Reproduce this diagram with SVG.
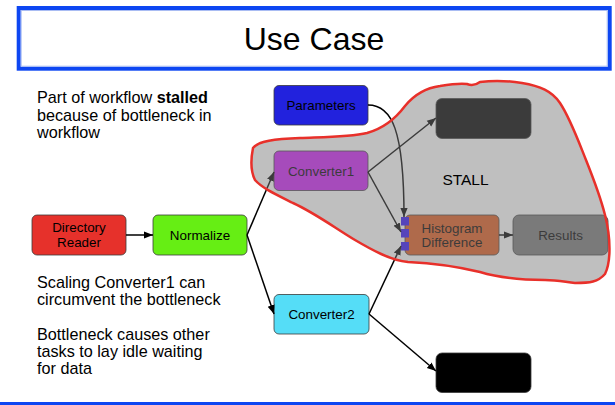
<svg xmlns="http://www.w3.org/2000/svg" width="615" height="405" viewBox="0 0 615 405">
  <defs>
    <style>
      text { font-family: "Liberation Sans", Arial, sans-serif; fill: #000; }
      .note { font-size: 16.2px; }
      .lbl { font-size: 13.4px; text-anchor: middle; }
      .box { stroke: #3a3a3a; stroke-width: 0.8; }
      .edge { fill: none; stroke: #000; stroke-width: 1.5; marker-end: url(#arrow); }
    </style>
    <marker id="arrow" viewBox="0 0 10 10" refX="10" refY="5" markerWidth="9" markerHeight="9" markerUnits="userSpaceOnUse" orient="auto">
      <path d="M0,1 L10,5 L0,9 z" fill="#000"/>
    </marker>
  </defs>

  <rect width="615" height="405" fill="#fff"/>

  <!-- title bar -->
  <g id="title">
    <rect x="18.7" y="8" width="591" height="60.7" fill="#fff" stroke="#0d46f2" stroke-width="4"/>
    <rect x="21.2" y="10.5" width="586" height="55.7" fill="none" stroke="#a9bcf3" stroke-width="1"/>
    <text x="314" y="50" font-size="32" text-anchor="middle">Use Case</text>
  </g>
  <line x1="0" y1="403.5" x2="615" y2="403.5" stroke="#0d46f2" stroke-width="3"/>

  <!-- notes -->
  <g id="notes" class="note">
    <text x="37" y="103">Part of workflow <tspan font-weight="bold">stalled</tspan></text>
    <text x="37" y="120.5">because of bottleneck in</text>
    <text x="37" y="138">workflow</text>
    <text x="37" y="287.5">Scaling Converter1 can</text>
    <text x="37" y="304.5">circumvent the bottleneck</text>
    <text x="37" y="340">Bottleneck causes other</text>
    <text x="37" y="357">tasks to lay idle waiting</text>
    <text x="37" y="374">for data</text>
  </g>

  <!-- nodes -->
  <g id="directory-reader">
    <rect class="box" x="32" y="215" width="94" height="40" rx="5" fill="#e6312b"/>
    <text class="lbl" x="79" y="231.5">Directory</text>
    <text class="lbl" x="79" y="246.5">Reader</text>
  </g>
  <g id="normalize">
    <rect class="box" x="153" y="215" width="94" height="40" rx="5" fill="#66ee14"/>
    <text class="lbl" x="200" y="239.5">Normalize</text>
  </g>
  <g id="parameters">
    <rect class="box" x="274" y="85.5" width="94" height="39.5" rx="5" fill="#2222dd"/>
    <text class="lbl" x="321" y="109.5">Parameters</text>
  </g>
  <g id="converter1">
    <rect class="box" x="274" y="151" width="94" height="39.5" rx="5" fill="#cf1ff7"/>
    <text class="lbl" x="321" y="175.5">Converter1</text>
  </g>
  <g id="converter2">
    <rect class="box" x="274" y="294.5" width="95" height="39.5" rx="5" fill="#55ddf7"/>
    <text class="lbl" x="321.5" y="318.5">Converter2</text>
  </g>
  <g id="output-top">
    <rect class="box" x="436" y="98.5" width="95" height="40" rx="6" fill="#000"/>
  </g>
  <g id="output-bottom">
    <rect class="box" x="436" y="353" width="95" height="39.5" rx="6" fill="#000"/>
  </g>
  <g id="histogram-difference">
    <rect class="box" x="405" y="215" width="94" height="40" rx="5" fill="#e05b1f"/>
    <rect x="401" y="217" width="8" height="8.5" fill="#3312f7"/>
    <rect x="401" y="229" width="8" height="8.5" fill="#3312f7"/>
    <rect x="401" y="242" width="8" height="8.5" fill="#3312f7"/>
    <text class="lbl" x="452" y="232.5">Histogram</text>
    <text class="lbl" x="452" y="246.5">Difference</text>
  </g>
  <g id="results">
    <rect class="box" x="513" y="215" width="95" height="40" rx="6" fill="#7a7a7a"/>
    <text class="lbl" x="560.5" y="239.5">Results</text>
  </g>

  <!-- connectors -->
  <g id="connectors">
    <path class="edge" d="M126,235 L153,235"/>
    <path class="edge" d="M247,235 L274,172"/>
    <path class="edge" d="M247,235 L274,314"/>
    <path class="edge" d="M368,105 C392,105 404,130 404,217"/>
    <path class="edge" d="M368,172 L436,118"/>
    <path class="edge" d="M368,172 L401,232"/>
    <path class="edge" d="M369,314 L401,246"/>
    <path class="edge" d="M369,314 L436,371"/>
    <path class="edge" d="M499,235 L513,235"/>
  </g>

  <!-- stalled region: translucent gray wash with red outline -->
  <g id="stall-region">
    <path id="stall-shape" d="M253,148 C258,141 275,139 300,138 C325,137 350,137 367,133 C385,128 396,118 405,106 C414,95 425,88 440,86 C452,84 460,83 467,84 C472,86 476,85 480,82 C495,80 510,81 522,83 C540,86 552,91 560,103 C570,118 578,140 586,160 C594,180 600,195 605,215 C611,238 611,262 605,274 C598,282 590,283 575,283 C565,282 558,280 545,280 C520,280 500,278 480,272 C455,266 430,263 408,262 C390,260 372,250 355,240 C335,228 315,213 293,203 C275,194 262,188 255,180 C250,170 251,158 253,148 Z" fill="#7a7a7a" fill-opacity="0.482" stroke="#e8302a" stroke-width="2.5" stroke-linejoin="round"/>
    <text x="465.5" y="184.5" font-size="15.5" text-anchor="middle">STALL</text>
  </g>
</svg>
